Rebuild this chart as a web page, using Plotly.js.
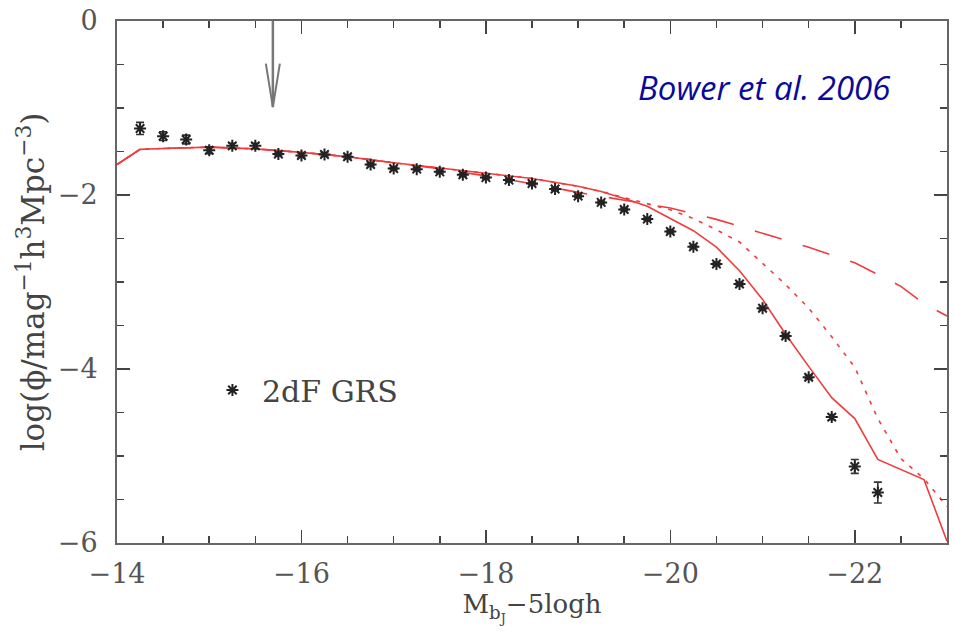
<!DOCTYPE html>
<html>
<head>
<meta charset="utf-8">
<script src="https://cdn.plot.ly/plotly-3.0.1.min.js"></script>
<style>
html,body{margin:0;padding:0;background:#fff;}
#chart{width:954px;height:633px;}
</style>
</head>
<body>
<div id="chart"></div>
<script>
// 2dF GRS luminosity function (data points)
const magObs = [-14.25,-14.5,-14.75,-15,-15.25,-15.5,-15.75,-16,-16.25,-16.5,-16.75,-17,-17.25,-17.5,-17.75,
                -18,-18.25,-18.5,-18.75,-19,-19.25,-19.5,-19.75,-20,-20.25,-20.5,-20.75,-21,-21.25,-21.5,-21.75,-22,-22.25];
const phiObs = [-1.235,-1.324,-1.362,-1.485,-1.435,-1.435,-1.53,-1.545,-1.534,-1.56,-1.649,-1.695,-1.703,-1.734,-1.768,
                -1.80,-1.829,-1.867,-1.932,-2.013,-2.085,-2.166,-2.277,-2.42,-2.595,-2.793,-3.023,-3.302,-3.62,-4.094,-4.553,-5.12,-5.42];
const phiErr = [0.07,0.05,0.05,0.04,0.03,0.03,0.02,0.02,0.02,0.02,0.015,0.015,0.015,0.015,0.015,
                0.015,0.015,0.015,0.015,0.015,0.015,0.015,0.015,0.015,0.015,0.015,0.015,0.015,0.015,0.02,0.03,0.08,0.12];

// Model curves
const magSolid = [-14,-14.25,-14.5,-15,-15.5,-16,-16.5,-17,-17.5,-18,-18.5,-19,-19.25,-19.5,-19.75,-20,-20.25,-20.5,-20.75,-21,-21.25,-21.5,-21.75,-22,-22.25,-22.75,-23];
const phiSolid = [-1.65,-1.475,-1.465,-1.45,-1.47,-1.51,-1.56,-1.63,-1.69,-1.75,-1.81,-1.90,-1.96,-2.04,-2.13,-2.27,-2.41,-2.60,-2.87,-3.20,-3.60,-3.97,-4.33,-4.57,-5.04,-5.27,-5.98];

const magDotted = [-14,-14.25,-14.5,-15,-15.5,-16,-16.5,-17,-17.5,-18,-18.5,-19,-19.25,-19.5,-19.75,-20,-20.25,-20.5,-20.75,-21,-21.25,-21.5,-21.75,-22,-22.25,-22.5,-22.75,-23];
const phiDotted = [-1.65,-1.475,-1.465,-1.45,-1.47,-1.51,-1.56,-1.63,-1.69,-1.75,-1.81,-1.90,-1.96,-2.03,-2.10,-2.17,-2.27,-2.40,-2.54,-2.78,-3.03,-3.30,-3.63,-3.98,-4.57,-5.03,-5.26,-5.58];

const magDashed = [-14,-14.25,-14.5,-15,-15.5,-16,-16.5,-17,-17.5,-18,-18.5,-19,-19.5,-20,-20.5,-21,-21.5,-22,-22.5,-22.75,-23];
const phiDashed = [-1.65,-1.475,-1.465,-1.45,-1.47,-1.51,-1.56,-1.63,-1.70,-1.78,-1.87,-1.97,-2.06,-2.15,-2.28,-2.44,-2.60,-2.78,-3.05,-3.25,-3.39];

// Tick labels
const xTicks = [-14,-16,-18,-20,-22];
const yTicks = [0,-2,-4,-6];

// Marker arrow (magnitude limit)
const arrowMag = -15.69;

const red = '#ef3d3d';
const serif = 'DejaVu Serif, serif';

const traces = [
  {x: magDashed, y: phiDashed, mode:'lines', showlegend:false, hoverinfo:'skip',
   line:{color:red, width:1.6, dash:'28px,22px'}},
  {x: magDotted, y: phiDotted, mode:'lines', showlegend:false, hoverinfo:'skip',
   line:{color:red, width:1.6, dash:'4px,7px'}},
  {x: magSolid, y: phiSolid, mode:'lines', showlegend:false, hoverinfo:'skip',
   line:{color:red, width:1.6}},
  {x: magObs, y: phiObs, mode:'markers', name:'\u00a02dF GRS', showlegend:true,
   error_y:{type:'data', array: phiErr, visible:true, color:'#333', thickness:1.6, width:4},
   marker:{symbol:'asterisk-open', size:10, color:'#222', line:{color:'#222', width:2}}}
];

const axisCommon = {
  showgrid:false, zeroline:false, showline:true, linecolor:'#666', linewidth:2,
  mirror:'ticks', ticks:'inside', ticklen:13, tickwidth:1.5, tickcolor:'#444',
  tickfont:{family:serif, size:27, color:'#555'},
  minor:{dtick:0.5, ticks:'inside', ticklen:7, tickwidth:1.5, tickcolor:'#444'}
};

const layout = {
  width:954, height:633,
  margin:{l:117, r:7, t:21, b:90},
  paper_bgcolor:'#fff', plot_bgcolor:'#fff',
  xaxis: Object.assign({}, axisCommon, {
    range:[-14,-23], tickmode:'array', tickvals:xTicks, ticklabelstandoff:6,
    title:{text:'M<sub>b<sub>J</sub></sub>\u22125logh', font:{family:serif, size:26, color:'#444'}, standoff:4}
  }),
  yaxis: Object.assign({}, axisCommon, {
    range:[-6,0], tickmode:'array', tickvals:yTicks, ticklabelstandoff:12,
    title:{text:'log(\u03d5/mag<sup>\u22121</sup>h<sup>3</sup>Mpc<sup>\u22123</sup>)', font:{family:serif, size:31, color:'#444'}}
  }),
  legend:{x:0.115, y:0.293, xanchor:'left', yanchor:'middle', bgcolor:'rgba(0,0,0,0)',
          font:{family:serif, size:30, color:'#444'}},
  annotations:[
    {xref:'paper', yref:'paper', x:0.934, y:0.872, xanchor:'right', yanchor:'middle', showarrow:false,
     text:'<i>Bower et al. 2006</i>', font:{family:'Open Sans, sans-serif', size:33, color:'#0a0a9a'}}
  ],
  shapes:[
    {type:'line', xref:'x', yref:'y', x0:arrowMag, x1:arrowMag, y0:0, y1:-0.99, line:{color:'#777', width:2.5}},
    {type:'path', xref:'x', yref:'y',
     path:'M '+(arrowMag+0.076)+',-0.49 L '+arrowMag+',-0.99 L '+(arrowMag-0.076)+',-0.49',
     line:{color:'#777', width:2}}
  ]
};

Plotly.newPlot('chart', traces, layout, {displayModeBar:false, staticPlot:true});
</script>
</body>
</html>
